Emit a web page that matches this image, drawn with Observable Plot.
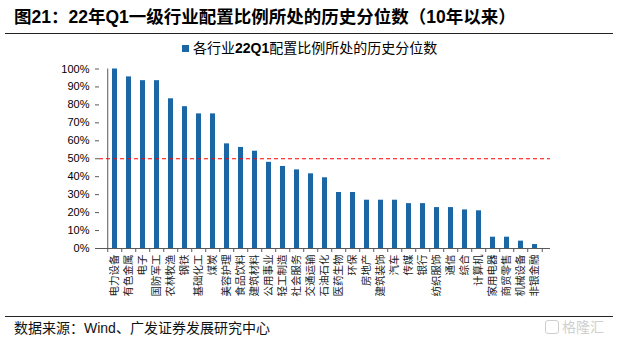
<!DOCTYPE html>
<html><head><meta charset="utf-8">
<script src="https://cdn.jsdelivr.net/npm/d3@7"></script>
<script src="https://cdn.jsdelivr.net/npm/@observablehq/plot@0.6"></script>
<style>
body{margin:0;width:618px;height:341px;position:relative;background:#fff;font-family:"Liberation Sans","Noto Sans CJK SC",sans-serif;overflow:hidden;color:#000}
#title{position:absolute;left:14px;top:5px;font-size:17.5px;font-weight:bold;line-height:24px;white-space:nowrap}
#hr1{position:absolute;left:5px;width:608px;top:33px;border-top:1.2px solid #222}
#legend{position:absolute;top:39px;left:182px;font-size:14px;line-height:18px;white-space:nowrap}
#legend .sw{display:inline-block;width:7px;height:7px;background:#1b67a6;margin-right:4px;vertical-align:1px}
#legend b{font-weight:bold}
#chart{position:absolute;left:0;top:56px}
#hr2{position:absolute;left:5px;width:608px;top:316px;border-top:1.2px solid #222}
#source{position:absolute;left:14px;top:319px;font-size:14px;line-height:18px;white-space:nowrap;color:#111}
#wm{position:absolute;left:545px;top:318px;font-size:14px;line-height:18px;color:#cfcfcf;white-space:nowrap}
#wm .bx{display:inline-block;width:12px;height:12px;border:1.5px solid #cfcfcf;border-radius:3px;margin-right:3px;vertical-align:-2px}
</style></head>
<body>
<div id="title">图21：22年Q1一级行业配置比例所处的历史分位数（10年以来）</div>
<div id="hr1"></div>
<div id="legend"><span class="sw"></span>各行业<b>22Q1</b>配置比例所处的历史分位数</div>
<div id="chart"></div>
<div id="hr2"></div>
<div id="source">数据来源：Wind、广发证券发展研究中心</div>
<div id="wm"><span class="bx"></span>格隆汇</div>
<script>
const categories = ["电力设备","有色金属","电子","国防军工","农林牧渔","钢铁","基础化工","煤炭","美容护理","食品饮料","建筑材料","公用事业","轻工制造","社会服务","交通运输","石油石化","医药生物","环保","房地产","建筑装饰","汽车","传媒","银行","纺织服饰","通信","综合","计算机","家用电器","商贸零售","机械设备","非银金融"];
const values = [100,95.6,93.5,93.5,83.4,79,75,75,58.3,56.3,54.2,48,45.7,43.8,41.6,39.4,31.2,31.2,26.9,26.9,26.9,25,25,22.8,22.8,21.5,21,6.3,6.3,4.1,2.2];
const yTicks = [0,10,20,30,40,50,60,70,80,90,100];
const threshold = [50];

const data = categories.map((c,i)=>({c, v: values[i]}));
const W=618, H=258, mL=99, mR=68, mT=12.5, mB=66;
const step = (W-mL-mR)/categories.length;
const axisColor = "#595959";
const chart = Plot.plot({
  width: W, height: H,
  marginLeft: mL, marginRight: mR, marginTop: mT, marginBottom: mB,
  style: {fontFamily: "'Liberation Sans','Noto Sans CJK SC',sans-serif", fontSize: "11px", color: "#000", background: "transparent"},
  x: {domain: categories, paddingInner: 0.65, paddingOuter: 0.325, axis: null},
  y: {domain: [0,100], axis: null},
  marks: [
    Plot.barY(data, {x: "c", y: "v", fill: "#1b67a6"}),
    Plot.ruleY(threshold, {stroke: "#ff0000", strokeDasharray: "4,3", strokeWidth: 1.2}),
    Plot.ruleY([0], {stroke: axisColor}),
    Plot.ruleX([categories[0]], {dx: -step/2, y1: 0, y2: 100, stroke: axisColor}),
    Plot.axisY({ticks: yTicks, tickFormat: d => d + "%", tickSize: 4, tickPadding: 6, stroke: axisColor, fill: "#000", fontSize: 11, label: null}),
    Plot.axisX({tickSize: 4, tickFormat: () => "", dx: -step/2, stroke: axisColor, label: null}),
    Plot.axisX({ticks: [categories[categories.length-1]], tickSize: 4, tickFormat: () => "", dx: step/2, stroke: axisColor, label: null}),
    Plot.axisX({tickSize: 0, tickRotate: -90, tickPadding: 6, fontSize: 10.5, fill: "#222", fontFamily: "'Noto Sans CJK SC',sans-serif", label: null})
  ]
});
document.getElementById("chart").appendChild(chart);
</script>
</body></html>
